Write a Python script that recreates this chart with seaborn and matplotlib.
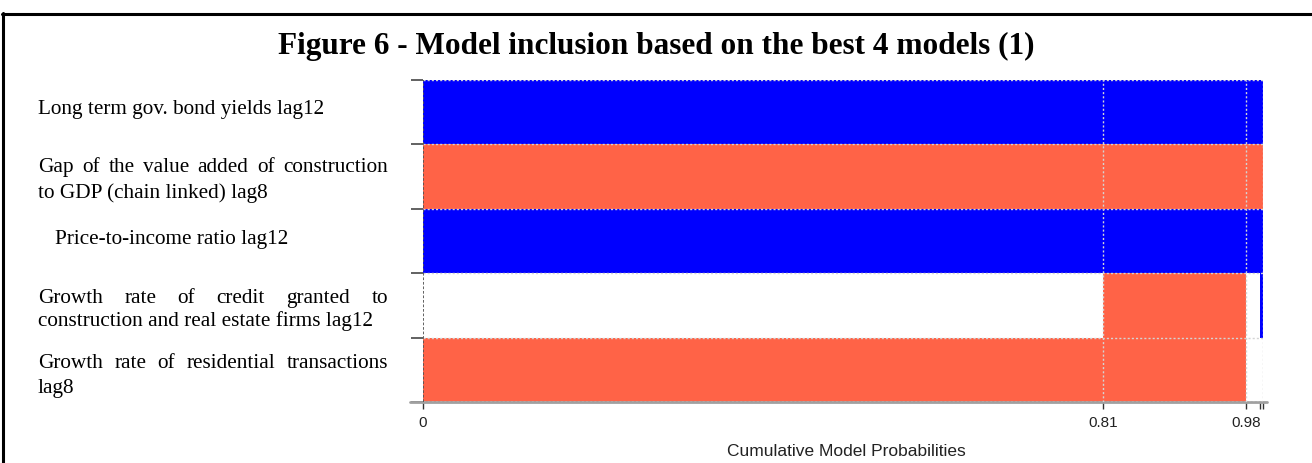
import numpy as np
import pandas as pd
import matplotlib
matplotlib.use("Agg")
import matplotlib.pyplot as plt
from matplotlib.lines import Line2D
import seaborn as sns

# ---------------- data ----------------
variables = [
    "Long term gov. bond yields lag12",
    "Gap of the value added of construction to GDP (chain linked) lag8",
    "Price-to-income ratio lag12",
    "Growth rate of credit granted to construction and real estate firms lag12",
    "Growth rate of residential transactions lag8",
]
model_probs = [0.81, 0.17, 0.017, 0.003]
# sign of the coefficient in each of the best 4 models
sign_long_term = ["positive", "positive", "positive", "positive"]
sign_gap_construction = ["negative", "negative", "negative", "negative"]
sign_price_income = ["positive", "positive", "positive", "positive"]
sign_credit = ["excluded", "negative", "excluded", "positive"]
sign_transactions = ["negative", "negative", "excluded", "excluded"]
tick_values = [0, 0.81, 0.98, 0.997, 1.0]
tick_labels = ["0", "0.81", "0.98", "", ""]
grid_values = [0.81, 0.98, 1.0]

label_lines = [
    [("Long term gov. bond yields lag12", False)],
    [("Gap of the value added of construction", True), ("to GDP (chain linked) lag8", False)],
    [("Price-to-income ratio lag12", False)],
    [("Growth rate of credit granted to", True), ("construction and real estate firms lag12", False)],
    [("Growth rate of residential transactions", True), ("lag8", False)],
]

signs = [sign_long_term, sign_gap_construction, sign_price_income, sign_credit, sign_transactions]
cum_end = np.cumsum(model_probs)

palette = {"positive": "#0000FF", "negative": "#FF6347", "excluded": "#FFFFFF"}

# ---------------- figure ----------------
sns.set_theme(style="white")
plt.rcParams["font.family"] = ["Liberation Sans", "DejaVu Sans"]

W, H = 1312, 463
fig = plt.figure(figsize=(W / 100, H / 100), dpi=100)
fig.patch.set_facecolor("white")

ax_l, ax_r, ax_t, ax_b = 423, 1263, 80, 402
ax = fig.add_axes([ax_l / W, 1 - ax_b / H, (ax_r - ax_l) / W, (ax_b - ax_t) / H])
ax.set_facecolor("white")

# draw from last model to first so earlier models overlay later ones
for k in range(len(model_probs) - 1, -1, -1):
    df = pd.DataFrame({
        "variable": variables,
        "end": [cum_end[k]] * len(variables),
        "sign": [s[k] for s in signs],
    })
    sns.barplot(data=df, x="end", y="variable", hue="sign", palette=palette,
                hue_order=["negative", "excluded", "positive"], order=variables,
                dodge=False, width=1.0, saturation=1, errorbar=None,
                legend=False, orient="h", linewidth=0, ax=ax)

ax.set_xlim(0, cum_end[-1])
ax.set_ylim(len(variables) - 0.5, -0.5)

# dotted grid on top of bars
for xv in grid_values:
    ax.axvline(xv, color="#d4d4d4", ls=(0, (1.5, 1.5)), lw=1, zorder=5)
for yv in np.arange(-0.5, len(variables) + 0.5, 1):
    ax.axhline(yv, color="#d4d4d4", ls=(0, (1.5, 1.5)), lw=1, zorder=5)
ax.axvline(0, color="#555555", ls=(0, (1.5, 1)), lw=1.3, zorder=6)

for sp in ax.spines.values():
    sp.set_visible(False)

# y ticks at row boundaries, no labels
ax.set_yticks(np.arange(-0.5, len(variables) + 0.5, 1))
ax.set_yticklabels([])
ax.set_ylabel("")
ax.tick_params(axis="y", which="both", left=True, length=8.6, width=1.3,
               color="#555555", direction="out")

# x ticks
ax.set_xticks(tick_values)
ax.set_xticklabels(tick_labels, fontsize=11, color="#222222")
ax.set_xlabel("")
ax.tick_params(axis="x", which="both", bottom=True, length=5, width=1,
               color="#333333", direction="out", pad=5)

# bottom axis line extending beyond the axes
ax.plot([-13 / (ax_r - ax_l), 1 + 4 / (ax_r - ax_l)], [0, 0], transform=ax.transAxes,
        color="#a0a0a0", lw=2, clip_on=False, zorder=4)

fig.text(846 / W, 1 - 452 / H, "Cumulative Model Probabilities", ha="center", va="center",
         fontsize=12.5, color="#222222")

# title
fig.text(656 / W, 1 - 46 / H, "Figure 6 - Model inclusion based on the best 4 models (1)",
         ha="center", va="center", fontsize=22.5, fontweight="bold",
         family=["Liberation Serif", "DejaVu Serif"], color="black")

# frame
fig.add_artist(Line2D([2 / W, 1.0], [1 - 14 / H, 1 - 14 / H], color="black", lw=2.2,
                      transform=fig.transFigure))
fig.add_artist(Line2D([3 / W, 3 / W], [1 - 13 / H, 0], color="black", lw=2.2,
                      transform=fig.transFigure))

# row labels (justified text)
renderer = fig.canvas.get_renderer()
left_px, right_px = 38, 388
line_y = [[108], [166, 192], [238], [297, 320], [362, 387]]
indent = [0, 0, 17, 0, 0]
lab_kw = dict(fontsize=15.3, family=["Liberation Serif", "DejaVu Serif"], color="black",
              va="baseline", ha="left")
for r, lines in enumerate(label_lines):
    for (txt, justify), ypx in zip(lines, line_y[r]):
        y = 1 - (ypx + 6) / H
        if not justify:
            fig.text((left_px + indent[r]) / W, y, txt, **lab_kw)
            continue
        words = txt.split(" ")
        objs = [fig.text(0, y, w, **lab_kw) for w in words]
        widths = [o.get_window_extent(renderer).width for o in objs]
        gap = (right_px - left_px - sum(widths)) / (len(words) - 1)
        x = left_px
        for o, wd in zip(objs, widths):
            o.set_x(x / W)
            x += wd + gap

fig.savefig("out.png", dpi=100)
